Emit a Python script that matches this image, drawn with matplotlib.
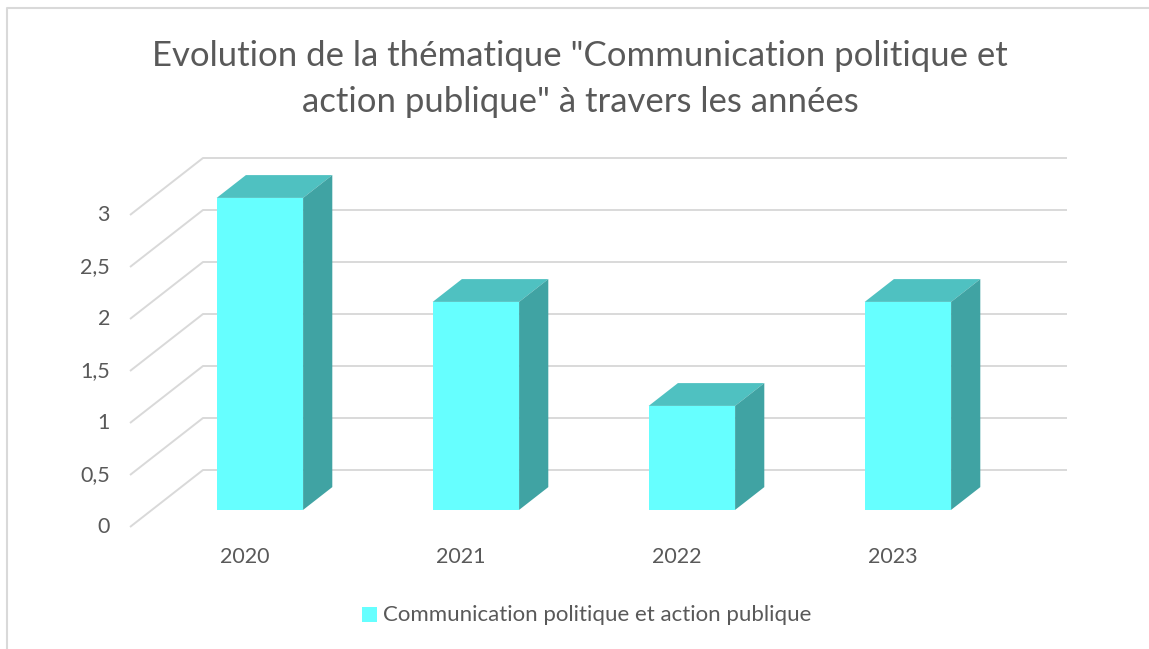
import numpy as np
import matplotlib.pyplot as plt
from matplotlib.patches import Polygon, Rectangle
from matplotlib.lines import Line2D

plt.rcParams['font.family'] = ['Lato', 'DejaVu Sans']

# data
years = ['2020', '2021', '2022', '2023']
values = [3, 2, 1, 2]
ticks = [0, 0.5, 1, 1.5, 2, 2.5, 3]
tick_labels = ['0', '0,5', '1', '1,5', '2', '2,5', '3']
series_name = 'Communication politique et action publique'
title = 'Evolution de la thématique "Communication politique et\naction publique" à travers les années'

# colours
c_front = '#66FFFF'
c_top = '#4FC1C1'
c_side = '#40A3A3'
c_grid = '#D9D9D9'
c_text = '#595959'

# oblique projection of the depth axis (in data units)
ddx = 73 / 216   # depth -> x shift
ddy = 57 / 104   # depth -> y shift
bw = 0.4         # bar width (category units)
d0, d1 = 0.3, 0.7  # bar depth span

W, H = 1149, 649
fig = plt.figure(figsize=(W / 100, H / 100), dpi=100)
ax = fig.add_axes([130 / W, (H - 527) / H, 940 / W, 369 / H])
ax.set_xlim(-0.5, -0.5 + 940 / 216)
ax.set_ylim(0, 369 / 104)
ax.axis('off')

# walls gridlines
x0 = -0.5
x1 = len(years) - 0.5
for v in ticks:
    ax.plot([x0, x0 + ddx, x1 + ddx], [v, v + ddy, v + ddy],
            color=c_grid, lw=1.4, solid_capstyle='butt', clip_on=False, zorder=1)

# 3d bars
for i, v in enumerate(values):
    xl = i - bw / 2
    xr = i + bw / 2
    yb = d0 * ddy
    xs = d0 * ddx
    front = Rectangle((xl + xs, yb), bw, v, facecolor=c_front, edgecolor='none', zorder=3)
    top = Polygon([(xl + xs, yb + v), (xr + xs, yb + v),
                   (xr + d1 * ddx, v + d1 * ddy), (xl + d1 * ddx, v + d1 * ddy)],
                  closed=True, facecolor=c_top, edgecolor='none', zorder=3)
    side = Polygon([(xr + xs, yb), (xr + d1 * ddx, d1 * ddy),
                    (xr + d1 * ddx, v + d1 * ddy), (xr + xs, yb + v)],
                   closed=True, facecolor=c_side, edgecolor='none', zorder=3)
    for p in (front, top, side):
        ax.add_patch(p)

# axis labels
for v, lab in zip(ticks, tick_labels):
    ax.text(x0 - 20 / 216, v, lab, ha='right', va='center', fontsize=15.5,
            color=c_text, clip_on=False)
for i, y in enumerate(years):
    ax.text(i + 0.03, -30 / 104, y, ha='center', va='center', fontsize=15.5,
            color=c_text, clip_on=False)

# title
fig.text(580 / W, 1 - 79 / H, title, ha='center', va='center', fontsize=25,
         color=c_text, linespacing=1.55)

# legend
fig.patches.append(Rectangle((362 / W, 1 - 622 / H), 15 / W, 15 / H,
                             transform=fig.transFigure, facecolor=c_front,
                             edgecolor='none'))
fig.text(383 / W, 1 - 615 / H, series_name, ha='left', va='center',
         fontsize=16, color=c_text)

# chart border
fig.add_artist(Line2D([7 / W, 7 / W, 1], [0, 1 - 8 / H, 1 - 8 / H],
                      transform=fig.transFigure, color=c_grid, lw=1.5))

fig.savefig('out.png', dpi=100, facecolor='white')
